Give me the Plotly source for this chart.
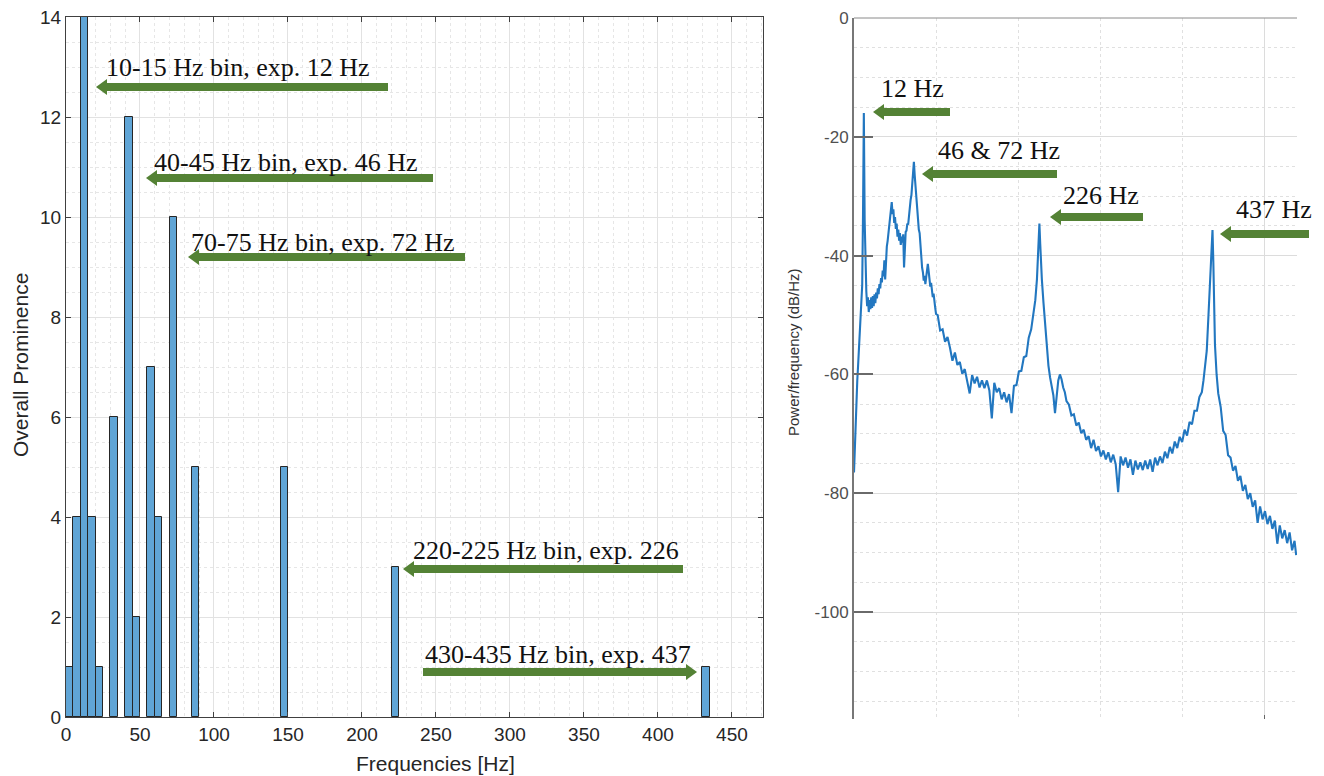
import plotly.graph_objects as go

# ---------------- data ----------------
# Left: histogram of prominent frequencies (5 Hz bins)
bin_starts = [0, 5, 10, 15, 20, 30, 40, 45, 55, 60, 70, 85, 145, 220, 430]
bin_counts = [1, 4, 14, 4, 1, 6, 12, 2, 7, 4, 10, 5, 5, 3, 1]
bin_width = 5
hist_xticks = [0, 50, 100, 150, 200, 250, 300, 350, 400, 450]
hist_yticks = [0, 2, 4, 6, 8, 10, 12, 14]

# Right: power spectral density
psd_freq_low = [0, 1, 2, 3, 4, 5, 6, 7, 8, 9,
                10, 11, 12, 13, 14, 15, 16, 17, 18, 19,
                20, 21, 22, 23, 24, 25, 26, 27, 28, 29,
                30, 31, 32, 33, 34, 35, 36, 37, 38, 39,
                40, 41, 42, 43, 44, 45, 46, 47, 48, 49,
                50, 51, 52, 53, 54, 55, 56, 57, 58, 59,
                60, 61, 62, 63, 64, 65, 66, 67, 68, 69,
                70, 71, 72, 73, 74, 75, 76, 77, 78, 79,
                80, 81, 82, 83, 84, 85, 86, 87, 88, 89,
                90, 91, 92, 93, 94, 95, 96, 97, 98, 99,
                100]
psd_db_low = [-76.5, -72.0, -68.0, -64.5, -61.0, -58.5, -56.0, -53.5, -51.0, -48.0,
              -45.0, -33.0, -16.0, -34.0, -43.5, -46.0, -48.5, -47.0, -49.5, -47.5,
              -49.0, -47.0, -48.8, -46.8, -48.5, -46.5, -48.0, -46.2, -47.2, -45.5,
              -46.5, -44.8, -45.5, -43.8, -44.5, -42.5, -43.5, -40.8, -44.0, -39.5,
              -38.5, -37.5, -36.0, -34.5, -33.0, -32.5, -31.0, -33.0, -32.2, -34.5,
              -33.5, -35.5, -34.6, -36.8, -35.6, -37.5, -36.2, -38.2, -36.8, -37.8,
              -36.4, -42.0, -36.8, -36.0, -35.8, -34.6, -34.8, -33.0, -32.4, -30.6,
              -29.8, -27.6, -26.0, -24.2, -26.5, -28.5, -30.0, -32.0, -33.4, -35.6,
              -36.2, -38.5, -40.0, -42.0, -42.8, -44.2, -43.4, -44.8, -43.6, -42.2,
              -41.4, -42.6, -43.8, -45.2, -44.6, -46.2, -47.0, -46.4, -48.4, -48.8,
              -49.8]
psd_freq_high = [102, 105, 108, 111, 114, 117, 120, 123, 126, 129,
                 132, 135, 138, 141, 144, 147, 150, 153, 156, 159,
                 162, 165, 168, 171, 174, 177, 180, 183, 186, 189,
                 192, 195, 198, 201, 204, 207, 210, 213, 216, 219,
                 221, 223, 224, 225, 226, 227, 228, 229, 231, 233,
                 235, 237, 239, 241, 243, 245, 247, 249, 251, 253,
                 255, 257, 259, 262, 265, 268, 271, 274, 277, 280,
                 283, 286, 289, 292, 295, 298, 301, 304, 307, 310,
                 313, 316, 319, 322, 325, 328, 331, 334, 337, 340,
                 343, 346, 349, 352, 355, 358, 361, 364, 367, 370,
                 373, 376, 379, 382, 385, 388, 391, 394, 397, 400,
                 403, 406, 409, 412, 415, 418, 421, 424, 426, 428,
                 430, 432, 434, 435, 436, 437, 438, 439, 440, 442,
                 444, 447, 450, 453, 456, 459, 462, 465, 468, 471,
                 474, 477, 480, 483, 486, 489, 492, 495, 498, 501,
                 504, 507, 510, 513, 516, 519, 522, 525, 528, 531,
                 534, 537, 539]
psd_db_high = [-50.0, -52.6, -52.4, -54.5, -53.7, -55.5, -57.7, -56.3, -58.4, -57.9,
               -59.9, -59.1, -60.9, -63.2, -60.1, -61.5, -60.4, -62.2, -61.0, -62.3,
               -61.0, -62.7, -67.4, -61.4, -63.0, -62.3, -64.2, -63.0, -64.7, -63.3,
               -66.5, -61.9, -61.8, -59.5, -59.4, -57.1, -56.9, -53.8, -52.4, -49.2,
               -47.5, -44.0, -41.0, -37.0, -34.6, -38.0, -41.5, -44.0, -48.0, -52.0,
               -55.5, -58.5, -60.5, -62.0, -63.5, -66.5, -63.0, -61.0, -60.0, -60.8,
               -62.2, -63.0, -64.5, -65.1, -66.9, -66.7, -68.6, -68.1, -69.9, -69.3,
               -71.0, -70.4, -72.4, -71.0, -72.9, -72.1, -73.8, -72.8, -74.3, -73.1,
               -74.8, -73.5, -75.1, -79.8, -73.8, -75.3, -74.0, -75.7, -74.3, -76.9,
               -74.5, -76.0, -74.8, -76.1, -74.5, -75.9, -74.3, -76.4, -74.0, -75.3,
               -73.8, -74.9, -73.0, -74.1, -72.2, -73.3, -71.3, -72.4, -70.5, -71.4,
               -69.3, -70.3, -68.0, -68.4, -66.1, -66.1, -63.8, -63.0, -61.0, -58.5,
               -56.0, -50.3, -45.0, -42.0, -38.0, -35.7, -41.0, -48.0, -55.0, -60.0,
               -63.2, -65.5, -69.5, -70.2, -73.6, -74.0, -76.2, -75.4, -77.9, -77.1,
               -79.6, -78.6, -81.0, -80.0, -82.3, -81.2, -85.0, -82.2, -84.4, -83.0,
               -85.2, -83.8, -86.0, -84.6, -88.5, -85.4, -87.6, -86.2, -88.4, -86.6,
               -89.6, -88.0, -90.4]
psd_freq = psd_freq_low + psd_freq_high
psd_db = psd_db_low + psd_db_high
psd_yticks = [0, -20, -40, -60, -80, -100]
psd_yticklabels = ["0", "-20", "-40", "-60", "-80", "-100"]

# annotation texts
left_labels = ["10-15 Hz bin, exp. 12 Hz", "40-45 Hz bin, exp. 46 Hz",
               "70-75 Hz bin, exp. 72 Hz", "220-225 Hz bin, exp. 226",
               "430-435 Hz bin, exp. 437"]
right_labels = ["12 Hz", "46 & 72 Hz", "226 Hz", "437 Hz"]

# ---------------- layout helpers ----------------
W, H = 1324, 776


def px(x):
    return x / W


def py(y):
    return 1 - y / H


GREEN = "#548235"
TXT = "#262626"


def arrow(x_tail, x_tip, y, shaft=8, head_len=11, head_h=16):
    d = 1 if x_tip > x_tail else -1
    xb = x_tip - d * head_len
    pts = [(x_tail, y - shaft / 2), (xb, y - shaft / 2), (xb, y - head_h / 2),
           (x_tip, y), (xb, y + head_h / 2), (xb, y + shaft / 2), (x_tail, y + shaft / 2)]
    path = "M " + " L ".join(f"{px(a):.5f},{py(b):.5f}" for a, b in pts) + " Z"
    return dict(type="path", xref="paper", yref="paper", path=path,
                fillcolor=GREEN, line=dict(width=0), layer="above")


fig = go.Figure()

fig.add_trace(go.Bar(
    x=bin_starts, y=bin_counts, width=bin_width, offset=0,
    marker=dict(color="rgb(96,165,214)", line=dict(color="#262626", width=1)),
    xaxis="x", yaxis="y", showlegend=False))

fig.add_trace(go.Scatter(
    x=psd_freq, y=psd_db, mode="lines",
    line=dict(color="#2277c0", width=2.1),
    xaxis="x2", yaxis="y2", showlegend=False))

tickfont_left = dict(family="Liberation Sans, Arial, sans-serif", size=19, color=TXT)
tickfont_right = dict(family="Liberation Sans, Arial, sans-serif", size=17, color="#505050")

fig.update_layout(
    width=W, height=H, autosize=False, showlegend=False,
    margin=dict(l=0, r=0, t=0, b=0, pad=0, autoexpand=False),
    paper_bgcolor="white", plot_bgcolor="white",
    bargap=0,
    xaxis=dict(domain=[px(66), px(763)], range=[0, 471], tickvals=hist_xticks,
               ticks="inside", ticklen=5, tickcolor="#404040", automargin=False,
               showline=True, linecolor="#404040", linewidth=1, mirror="ticks",
               showgrid=True, gridcolor="#e2e2e2", gridwidth=1,
               minor=dict(dtick=10, showgrid=True, gridcolor="#e6e6e6", griddash="dot"),
               tickfont=tickfont_left, zeroline=False, anchor="y"),
    yaxis=dict(domain=[py(717), py(17)], range=[0, 14], tickvals=hist_yticks,
               ticks="inside", ticklen=5, tickcolor="#404040", automargin=False,
               showline=True, linecolor="#404040", linewidth=1, mirror="ticks",
               showgrid=True, gridcolor="#e2e2e2", gridwidth=1,
               minor=dict(dtick=0.5, showgrid=True, gridcolor="#e6e6e6", griddash="dot"),
               tickfont=tickfont_left, zeroline=False, anchor="x"),
    xaxis2=dict(domain=[px(854), px(1297)], range=[0, 540], tickvals=[500],
                showticklabels=False, ticks="inside", ticklen=4, tickcolor="#666666",
                automargin=False,
                showline=False, showgrid=True, gridcolor="#dcdcdc",
                minor=dict(tickvals=[100, 200, 300, 400], showgrid=True,
                           gridcolor="#e0e0e0", griddash="dot"),
                zeroline=False, anchor="y2"),
    yaxis2=dict(domain=[py(719), py(18)], range=[-118, 0], tickvals=psd_yticks,
                ticktext=psd_yticklabels, automargin=False,
                ticks="inside", ticklen=19, tickwidth=2, tickcolor="#6a6a6a",
                showline=True, linecolor="#777777", linewidth=2,
                showgrid=True, gridcolor="#dcdcdc",
                minor=dict(dtick=5, showgrid=True, gridcolor="#e0e0e0", griddash="dot"),
                tickfont=tickfont_right, zeroline=False, anchor="x2"),
)

shapes = [
    arrow(388, 96, 87), arrow(433, 146, 178), arrow(465, 188, 257),
    arrow(683, 403, 569), arrow(423, 697, 672),
    arrow(950, 873, 112), arrow(1057, 922, 174), arrow(1143, 1050, 217),
    arrow(1309, 1220, 234),
    dict(type="line", xref="paper", yref="paper", x0=px(854), x1=px(1297),
         y0=py(18), y1=py(18), line=dict(color="#8a8a8a", width=1)),
]
fig.update_layout(shapes=shapes)

serif = dict(family="Liberation Serif, Times New Roman, serif", size=26, color="#111111")
left_pos = [(238, 67), (285.5, 162), (323, 242), (546, 550), (557.5, 654)]
right_pos = [(912, 88), (998.5, 151), (1101, 195), (1274, 210)]
annotations = []
for t, (x, y) in zip(left_labels + right_labels, left_pos + right_pos):
    annotations.append(dict(text=t, xref="paper", yref="paper", x=px(x), y=py(y),
                            xanchor="center", yanchor="middle", showarrow=False, font=serif))

sans = "Liberation Sans, Arial, sans-serif"
annotations += [
    dict(text="Frequencies [Hz]", xref="paper", yref="paper", x=px(436), y=py(763),
         xanchor="center", yanchor="middle", showarrow=False,
         font=dict(family=sans, size=21, color=TXT)),
    dict(text="Overall Prominence", xref="paper", yref="paper", x=px(20), y=py(365),
         xanchor="center", yanchor="middle", showarrow=False, textangle=-90,
         font=dict(family=sans, size=21, color=TXT)),
    dict(text="Power/frequency (dB/Hz)", xref="paper", yref="paper", x=px(794), y=py(352),
         xanchor="center", yanchor="middle", showarrow=False, textangle=-90,
         font=dict(family=sans, size=15, color="#333333")),
]
fig.update_layout(annotations=annotations)

fig.write_html("out.html", config={"displayModeBar": False},
               post_script="document.body.style.margin='0px';")
